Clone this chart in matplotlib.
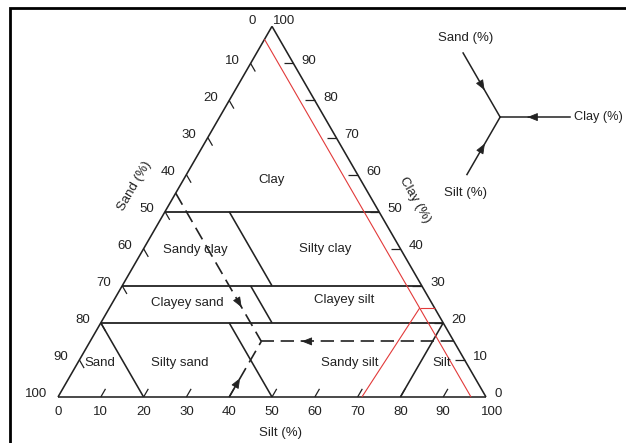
import numpy as np
import matplotlib
matplotlib.use('Agg')
import matplotlib.pyplot as plt
from matplotlib.patches import Rectangle

plt.rcParams['font.family'] = ['Liberation Sans', 'DejaVu Sans']

# percent values along each side of the triangle
tick_vals = [0, 10, 20, 30, 40, 50, 60, 70, 80, 90, 100]

# class boundaries at constant clay
clay_bounds = [50, 30, 20]
# constant-sand dividers inside each clay band
div_sand = [35, 40, 50]
div_clay_lo = [30, 20, 0]
div_clay_hi = [50, 30, 20]
# corner classes below 20 % clay
sand_corner = 80
silt_corner = 80

# worked example (dashed reading lines): sand, silt, clay
ex_sand, ex_silt, ex_clay = 45, 40, 15
# second example in red
red_sand, red_silt, red_clay = 3.5, 72.5, 24
red_base_silt = 71

class_names = ['Clay', 'Sandy clay', 'Silty clay', 'Clayey sand', 'Clayey silt',
               'Sand', 'Silty sand', 'Sandy silt', 'Silt']
class_x = [50.0, 32.0, 62.4, 30.1, 66.8, 9.8, 28.5, 68.2, 89.7]
class_y = [50.7, 34.3, 34.6, 22.0, 22.7, 7.9, 7.9, 7.9, 7.9]

INK = '#222222'
RED = '#e23a3a'


def tern(sand, silt, clay):
    # sand at bottom-left, silt at bottom-right, clay at the apex
    return silt + clay / 2.0, clay * np.sqrt(3) / 2.0


fig = plt.figure(figsize=(6.26, 4.43), dpi=100)
ax = fig.add_axes([58 / 626, 46 / 443, 428 / 626, 370.66 / 443])
ax.set_xlim(0, 100)
ax.set_ylim(0, 50 * np.sqrt(3))
ax.axis('off')


def seg(p, q, **kw):
    x0, y0 = tern(*p)
    x1, y1 = tern(*q)
    kw.setdefault('color', INK)
    kw.setdefault('lw', 1.15)
    ax.plot([x0, x1], [y0, y1], solid_capstyle='butt', clip_on=False, **kw)


def arrow_on(p, q, frac, color=INK, size=9):
    x0, y0 = tern(*p)
    x1, y1 = tern(*q)
    d = np.array([x1 - x0, y1 - y0])
    d = d / np.hypot(*d)
    tip = np.array([x0, y0]) + frac * np.array([x1 - x0, y1 - y0])
    ax.annotate('', xy=tip, xytext=tip - 0.2 * d,
                arrowprops=dict(arrowstyle='-|>,head_length=0.7,head_width=0.28',
                                color=color, lw=0.6, shrinkA=0, shrinkB=0,
                                mutation_scale=size),
                annotation_clip=False)


# outline
seg((100, 0, 0), (0, 100, 0))
seg((100, 0, 0), (0, 0, 100))
seg((0, 100, 0), (0, 0, 100))

# constant clay boundaries
for c in clay_bounds:
    seg((100 - c, 0, c), (0, 100 - c, c), lw=1.3)

# dividers within the bands
for s, lo, hi in zip(div_sand, div_clay_lo, div_clay_hi):
    seg((s, 100 - s - lo, lo), (s, 100 - s - hi, hi))

seg((sand_corner, 0, 100 - sand_corner), (sand_corner, 100 - sand_corner, 0))
seg((0, silt_corner, 100 - silt_corner), (100 - silt_corner, silt_corner, 0))

# red example
seg((red_sand, 0, 100 - red_sand), (red_sand, 100 - red_sand, 0), color=RED, lw=0.8)
seg((100 - red_base_silt, red_base_silt, 0), (red_sand, red_silt, red_clay), color=RED, lw=0.8)
seg((red_sand, red_silt, red_clay), (0, 100 - red_clay, red_clay), color=RED, lw=0.8)

# dashed reading lines towards the example point
P = (ex_sand, ex_silt, ex_clay)
A = (ex_sand, 0, 100 - ex_sand)
B = (0, 100 - ex_clay, ex_clay)
C = (100 - ex_silt, ex_silt, 0)
for start, frac in [(A, 0.77), (B, 0.79), (C, 0.34)]:
    seg(start, P, lw=1.2, linestyle=(0, (8, 4)))
    arrow_on(start, P, frac)

# ticks on each side
d = 2.2
for v in tick_vals[1:-1]:
    seg((v, 0, 100 - v), (v, d, 100 - v - d), lw=0.9)
    seg((0, 100 - v, v), (d, 100 - v - d, v), lw=0.9)
    seg((100 - v, v, 0), (100 - v - d, v, d), lw=0.9)

fs = 9.5
for v in tick_vals:
    # sand values on the left side
    off = (-11.5, 3.5) if v == 0 else (-8, 2)
    ax.annotate(str(v), tern(v, 0, 100 - v), xytext=off, textcoords='offset points',
                ha='right', va='center', fontsize=fs, color=INK, annotation_clip=False)
    # clay values on the right side
    off = (0.8, 4) if v == 100 else (6, 2)
    ax.annotate(str(v), tern(0, 100 - v, v), xytext=off, textcoords='offset points',
                ha='left', va='center', fontsize=fs, color=INK, annotation_clip=False)
    # silt values along the base
    off = (4.5, -11) if v == 100 else (0, -11)
    ax.annotate(str(v), tern(100 - v, v, 0), xytext=off, textcoords='offset points',
                ha='center', va='center', fontsize=fs, color=INK, annotation_clip=False)

ax.text(17.8, 49.3, 'Sand (%)', rotation=60, ha='center', va='center',
        fontsize=fs, color=INK, rotation_mode='anchor')
ax.text(83.4, 46.0, 'Clay (%)', rotation=-60, ha='center', va='center',
        fontsize=fs, color=INK, rotation_mode='anchor')
ax.text(51.9, -8.4, 'Silt (%)', ha='center', va='center', fontsize=fs, color=INK)

for name, x, y in zip(class_names, class_x, class_y):
    ax.text(x, y, name, ha='center', va='center', fontsize=fs, color=INK)

# key showing the reading direction for each component
jx, jy = 103.3, 65.4
arms = [(120, 17.3, 0.58), (0, 16.4, 0.61), (240, 15.5, 0.54)]
for ang, length, frac in arms:
    ex = jx + length * np.cos(np.radians(ang))
    ey = jy + length * np.sin(np.radians(ang))
    ax.plot([ex, jx], [ey, jy], color=INK, lw=1.1, clip_on=False)
    dv = np.array([jx - ex, jy - ey]) / length
    tip = np.array([ex, ey]) + frac * length * dv
    ax.annotate('', xy=tip, xytext=tip - 0.2 * dv,
                arrowprops=dict(arrowstyle='-|>,head_length=0.7,head_width=0.28',
                                color=INK, lw=0.6, shrinkA=0, shrinkB=0, mutation_scale=9),
                annotation_clip=False)
ax.text(95.3, 83.9, 'Sand (%)', ha='center', va='center', fontsize=fs, color=INK)
ax.text(95.3, 47.7, 'Silt (%)', ha='center', va='center', fontsize=fs, color=INK)
ax.text(120.5, 65.4, 'Clay (%)', ha='left', va='center', fontsize=fs - 0.3, color=INK)

# frame around the figure
fig.add_artist(Rectangle((10 / 626, -0.05), 1.0, (443 - 8) / 443 + 0.05,
                         transform=fig.transFigure, fill=False, lw=2, ec='black'))

fig.savefig('out.png', dpi=100)
